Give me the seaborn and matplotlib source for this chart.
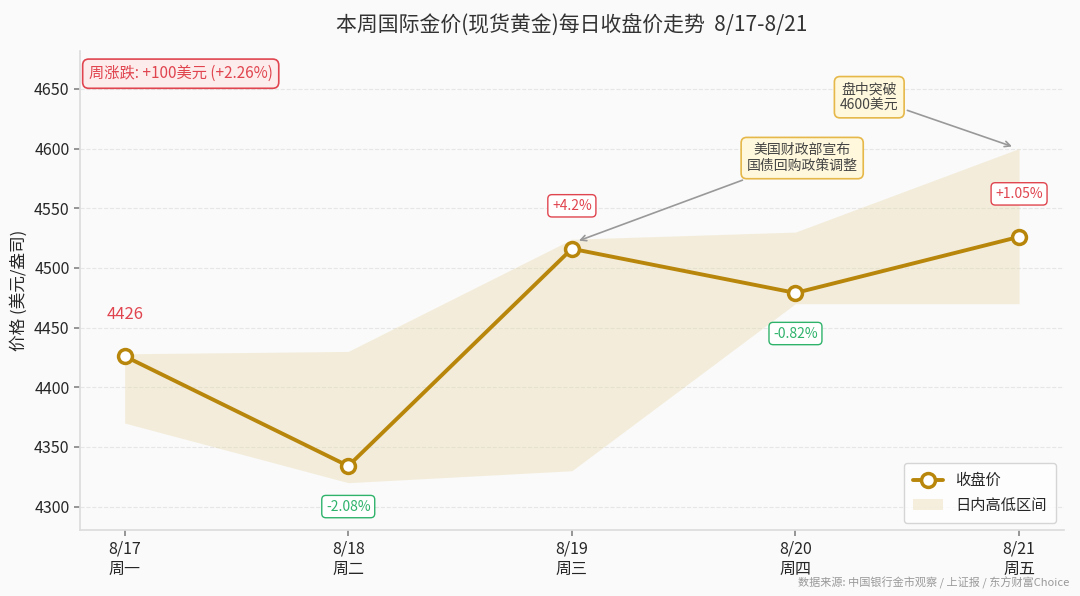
import pandas as pd
import matplotlib.pyplot as plt
import seaborn as sns

# Daily data for the week
dates = ['8/17', '8/18', '8/19', '8/20', '8/21']
weekdays = ['周一', '周二', '周三', '周四', '周五']
close = [4426, 4334, 4516, 4479, 4526]
high = [4428, 4430, 4524, 4530, 4600]
low = [4370, 4320, 4330, 4470, 4470]
pct_labels = ['', '-2.08%', '+4.2%', '-0.82%', '+1.05%']

df = pd.DataFrame({'idx': range(len(dates)), 'close': close, 'high': high, 'low': low})

sns.set_theme(style='white')
plt.rcParams['font.family'] = ['Noto Sans CJK SC', 'DejaVu Sans']

bg = '#fafafa'
gold = '#B8860B'
red = '#e0454f'
green = '#2fb36b'

fig, ax = plt.subplots(figsize=(10.8, 5.96), dpi=100)
fig.patch.set_facecolor(bg)
ax.set_facecolor(bg)

band = ax.fill_between(df['idx'], df['low'], df['high'], color='#e8d7a8', alpha=0.38,
                       linewidth=0, label='日内高低区间', zorder=1)
sns.lineplot(data=df, x='idx', y='close', ax=ax, color=gold, linewidth=2.8,
             marker='o', markersize=10, markerfacecolor='white',
             markeredgecolor=gold, markeredgewidth=2.5, label='收盘价', zorder=3)

# value and change labels
ax.text(0, close[0] + 35, f'{close[0]}', ha='center', va='center', color=red, fontsize=12)
for i in range(1, len(dates)):
    up = close[i] > close[i - 1]
    c = red if up else green
    y = close[i] + 36 if up else close[i] - 34
    ax.text(i, y, pct_labels[i], ha='center', va='center', color=c, fontsize=10,
            zorder=5,
            bbox=dict(boxstyle='round,pad=0.3', facecolor='white', edgecolor=c,
                      linewidth=1))

# event annotations
box_style = dict(boxstyle='round,pad=0.4', facecolor='#fff8dc', edgecolor='#e6b84a', linewidth=1.2)
ax.annotate('美国财政部宣布\n国债回购政策调整', xy=(2.02, 4522), xytext=(3.03, 4592),
            ha='center', va='center', fontsize=10, color='#444444', bbox=box_style,
            arrowprops=dict(arrowstyle='->', color='#999999', lw=1.2), zorder=6)
ax.annotate('盘中突破\n4600美元', xy=(3.98, 4601), xytext=(3.33, 4643),
            ha='center', va='center', fontsize=10, color='#444444', bbox=box_style,
            arrowprops=dict(arrowstyle='->', color='#999999', lw=1.2), zorder=6)

# weekly change box
ax.text(0.009, 0.952, '周涨跌: +100美元 (+2.26%)', transform=ax.transAxes, ha='left', va='center',
        fontsize=11, color=red,
        bbox=dict(boxstyle='round,pad=0.4', facecolor='#fdecec', edgecolor=red, linewidth=1.2))

ax.set_xlim(-0.2, 4.2)
ax.set_ylim(4280, 4682)
ax.set_yticks([4300, 4350, 4400, 4450, 4500, 4550, 4600, 4650])
ax.set_xticks(df['idx'])
ax.set_xticklabels([f'{d}\n{w}' for d, w in zip(dates, weekdays)], fontsize=11.5)
ax.tick_params(axis='y', labelsize=11.5, left=True, length=4, color='#888888')
ax.tick_params(axis='x', bottom=True, length=4, color='#888888')
ax.set_xlabel('')
ax.set_ylabel('价格 (美元/盎司)', fontsize=12)
ax.set_title('本周国际金价(现货黄金)每日收盘价走势  8/17-8/21', fontsize=15, color='#333333', pad=14)

ax.grid(axis='y', linestyle='--', color='#e6e6e6', linewidth=0.8)
sns.despine(ax=ax)
for s in ['left', 'bottom']:
    ax.spines[s].set_color('#dddddd')

handles, labels = ax.get_legend_handles_labels()
order = [labels.index('收盘价'), labels.index('日内高低区间')]
ax.legend([handles[k] for k in order], [labels[k] for k in order], loc='lower right',
          fontsize=11, frameon=True, facecolor='white', edgecolor='#cccccc', borderpad=0.6)

fig.text(0.99, 0.012, '数据来源: 中国银行金市观察 / 上证报 / 东方财富Choice', ha='right', va='bottom',
         fontsize=8, color='#999999')

plt.subplots_adjust(left=0.074, right=0.985, top=0.915, bottom=0.11)
plt.savefig('out.png', dpi=100, facecolor=bg)
plt.close()
